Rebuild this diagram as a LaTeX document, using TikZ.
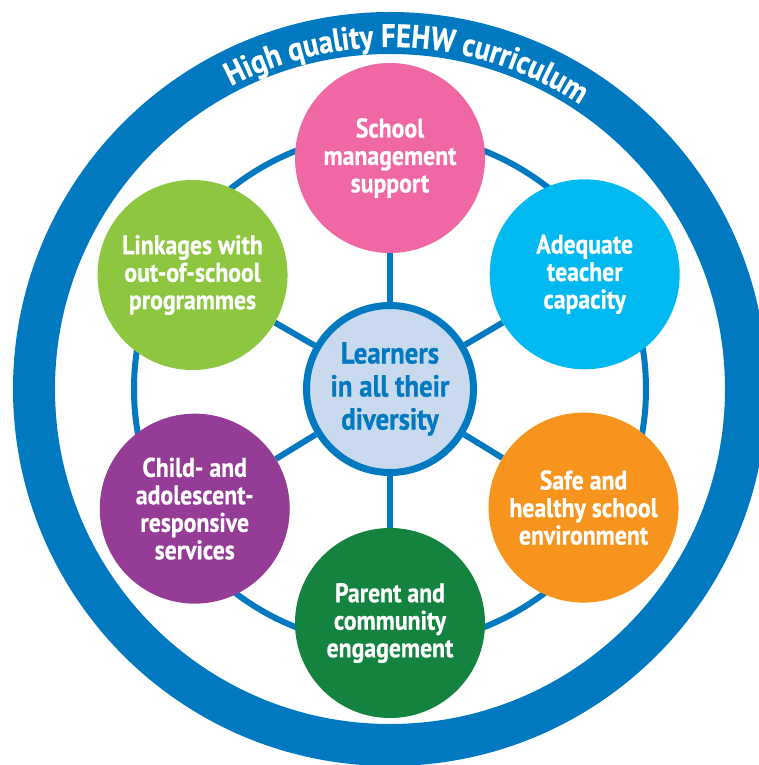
\documentclass[tikz,border=0pt]{standalone}
\usepackage{fontspec}
\usepackage{tikz}
\usetikzlibrary{backgrounds, decorations.text}

\newfontfamily\labelfont{PT Sans}[FakeStretch=0.88, BoldFeatures={FakeBold=0.6}]
\newcommand{\topicfont}{\labelfont\bfseries\fontsize{27}{27.5}\selectfont}
\newcommand{\hubfont}{\labelfont\bfseries\fontsize{30.5}{33}\selectfont}
\newcommand{\titlefont}{\labelfont\bfseries\fontsize{32.5}{32.5}\selectfont}

\definecolor{ringblue}{HTML}{0079C1}
\definecolor{hubfill}{HTML}{C9DAEE}
\definecolor{pinkc}{HTML}{F067A6}
\definecolor{cyanc}{HTML}{00B9F1}
\definecolor{orangec}{HTML}{F7941D}
\definecolor{greenc}{HTML}{13833F}
\definecolor{purplec}{HTML}{953D96}
\definecolor{limec}{HTML}{8DC63F}

\tikzset{
    topic/.style={circle, fill=#1, minimum size=190pt, inner sep=0pt, align=center, text=white, font=\topicfont},
    spoke/.style={ringblue, line width=6pt}
}

\begin{document}
\begin{tikzpicture}[x=1pt, y=1pt]
        \useasboundingbox (-390,-376) rectangle (369,389);

        % Outer ring and its title
        \draw[ringblue, line width=42pt] (0,0) circle (356);
        \path[decorate, decoration={text along path, text align=center,
            text={|\titlefont\color{white}|High quality FEHW curriculum}}]
            (147:342) arc[start angle=147, end angle=27, radius=342];

        % Inner ring
        \draw[spoke] (0,0) circle (256);

        % Learners in the middle
        \node[circle, draw=ringblue, line width=7pt, fill=hubfill, minimum size=167pt, inner sep=0pt,
            align=center, text=ringblue, font=\hubfont] (learners) at (0,0) {Learners\\in all their\\diversity};

        % Surrounding topics
        \node[topic=pinkc] (school) at (90:231) {School\\management\\support};
        \node[topic=cyanc] (teacher) at (30.5:226) {Adequate\\teacher\\capacity};
        \node[topic=orangec] (safety) at (-31.5:227) {Safe and\\healthy school\\environment};
        \node[topic=greenc] (parents) at (-90:234) {Parent and\\community\\engagement};
        \node[topic=purplec] (services) at (211.5:229) {Child- and\\adolescent-\\responsive\\services};
        \node[topic=limec] (linkages) at (150:228) {Linkages with\\out-of-school\\programmes};

        % Spokes
        \begin{scope}[on background layer]
            \foreach \t in {school, teacher, safety, parents, services, linkages}
                \draw[spoke] (learners) -- (\t);
        \end{scope}
    \end{tikzpicture}
\end{document}
